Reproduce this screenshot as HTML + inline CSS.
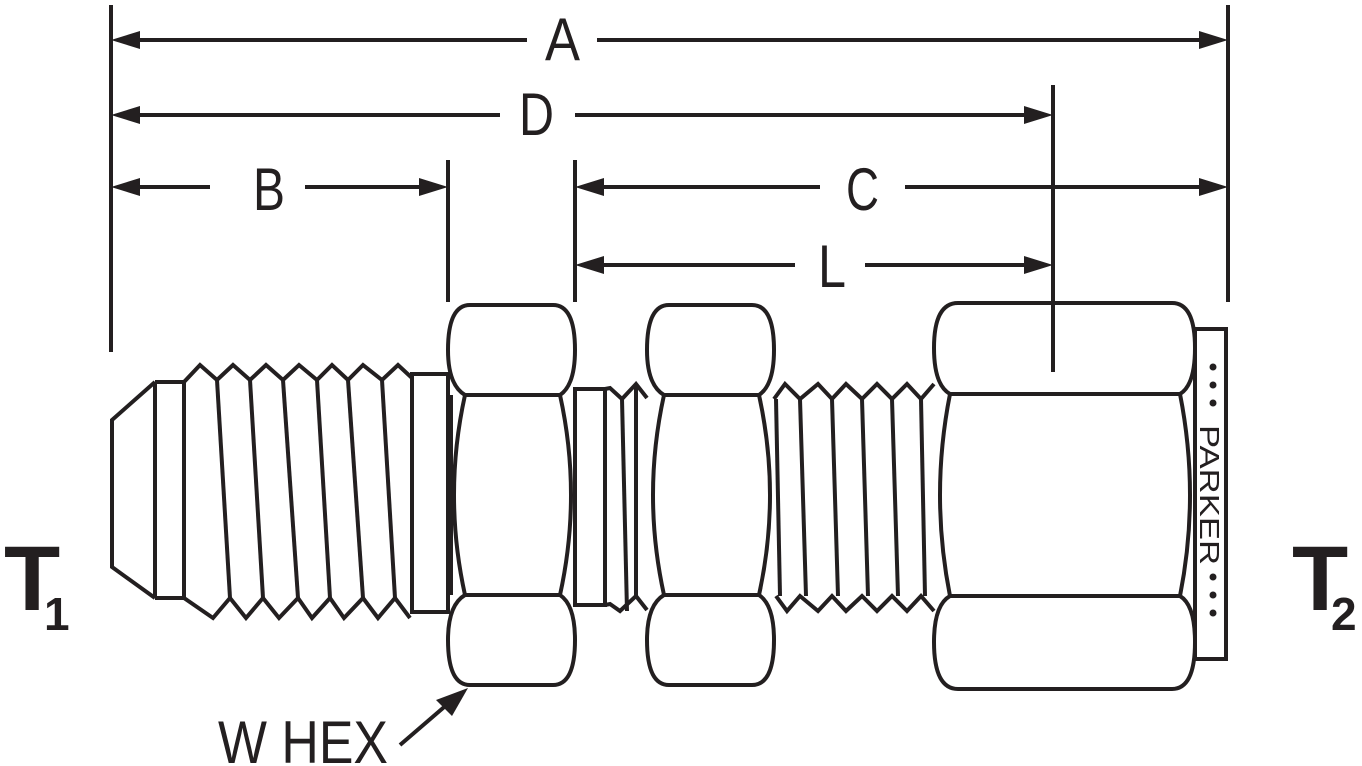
<!DOCTYPE html>
<html><head><meta charset="utf-8"><style>
html,body{margin:0;padding:0;background:#fff;}
svg{display:block;}
.t{font-family:"Liberation Sans Narrow","Liberation Sans",sans-serif;fill:#231f20;}
</style></head><body>
<svg width="1362" height="766" viewBox="0 0 1362 766" xmlns="http://www.w3.org/2000/svg">
<g stroke="#231f20" stroke-width="4" fill="none" stroke-linejoin="miter">
<line x1="111" y1="5" x2="111" y2="352"/>
<line x1="1228" y1="5" x2="1228" y2="302"/>
<line x1="448" y1="160" x2="448" y2="302"/>
<line x1="575" y1="160" x2="575" y2="302"/>
<line x1="1053" y1="85" x2="1053" y2="372"/>
<line x1="125" y1="40" x2="527" y2="40"/><line x1="597" y1="40" x2="1214" y2="40"/>
<line x1="125" y1="115" x2="500" y2="115"/><line x1="575" y1="115" x2="1039" y2="115"/>
<line x1="125" y1="187" x2="210" y2="187"/><line x1="305" y1="187" x2="434" y2="187"/>
<line x1="589" y1="187" x2="820" y2="187"/><line x1="905" y1="187" x2="1214" y2="187"/>
<line x1="589" y1="265" x2="795" y2="265"/><line x1="865" y1="265" x2="1039" y2="265"/>
</g>
<g fill="#231f20">
<polygon points="111,40 140,31 140,49"/><polygon points="1228,40 1199,31 1199,49"/>
<polygon points="111,115 140,106 140,124"/><polygon points="1053,115 1024,106 1024,124"/>
<polygon points="111,187 140,178 140,196"/><polygon points="448,187 419,178 419,196"/>
<polygon points="575,187 604,178 604,196"/><polygon points="1228,187 1199,178 1199,196"/>
<polygon points="575,265 604,256 604,274"/><polygon points="1053,265 1024,256 1024,274"/>
<polygon points="468,688 436,700 452,716"/>
</g>
<line x1="400" y1="745" x2="450" y2="702" stroke="#231f20" stroke-width="4"/>
<g class="t" font-size="60">
<text x="545" y="60" textLength="35" lengthAdjust="spacingAndGlyphs">A</text>
<text x="519" y="135" textLength="35" lengthAdjust="spacingAndGlyphs">D</text>
<text x="253" y="210" textLength="32" lengthAdjust="spacingAndGlyphs">B</text>
<text x="846" y="210" textLength="33" lengthAdjust="spacingAndGlyphs">C</text>
<text x="818" y="287" textLength="28" lengthAdjust="spacingAndGlyphs">L</text>
<text x="218" y="763" textLength="170" lengthAdjust="spacingAndGlyphs">W HEX</text>
</g>
<text x="4" y="610" font-family="Liberation Sans,sans-serif" font-weight="bold" font-size="92" fill="#231f20">T</text>
<text x="44" y="630" font-family="Liberation Sans,sans-serif" font-weight="bold" font-size="46" fill="#231f20">1</text>
<text x="1292" y="610" font-family="Liberation Sans,sans-serif" font-weight="bold" font-size="92" fill="#231f20">T</text>
<text x="1331" y="630" font-family="Liberation Sans,sans-serif" font-weight="bold" font-size="46" fill="#231f20">2</text>

<g stroke="#231f20" stroke-width="4" fill="none" stroke-linejoin="miter">
<polyline points="155,382 112,420 112,567 155,598"/>
<line x1="155" y1="382" x2="155" y2="598"/>
<line x1="184" y1="382" x2="184" y2="598"/>
<polyline points="155,382 184,382 200,365 217,380 233,365 250,380 266,365 283,380 299,365 317,380 332,365 348,380 363,365 382,380 398,365 412,378"/>
<polyline points="155,598 184,598 213,618 230,598 246,618 263,598 279,618 298,598 312,618 330,598 344,618 363,598 378,618 395,598 410,618"/>
<line x1="217" y1="380" x2="230" y2="598"/><line x1="250" y1="380" x2="263" y2="598"/>
<line x1="283" y1="380" x2="298" y2="598"/><line x1="317" y1="380" x2="330" y2="598"/>
<line x1="348" y1="380" x2="363" y2="598"/><line x1="382" y1="380" x2="395" y2="598"/>
<rect x="412" y="374" width="36" height="238"/>
<path d="M465,395 Q448,385 448,350 Q448,305 470,305 L553,305 Q575,305 575,350 Q575,385 560,395 Z"/>
<path d="M465,395 L560,395 Q582,495 560,595 L465,595 Q443,495 465,395 Z"/>
<path d="M465,595 Q448,605 448,640 Q448,685 470,685 L553,685 Q575,685 575,640 Q575,605 560,595 Z"/>
<line x1="451" y1="395" x2="451" y2="595"/>
<rect x="575" y="389" width="30" height="216"/>
<polyline points="605,389 610,388 622,399 636,384 647,398"/>
<polyline points="605,605 610,604 620,611 636,596 647,610"/>
<line x1="622" y1="399" x2="627" y2="611"/><line x1="636" y1="384" x2="636" y2="596"/>
<path d="M664,395 Q647,385 647,350 Q647,305 669,305 L752,305 Q774,305 774,350 Q774,385 759,395 Z"/>
<path d="M664,395 L759,395 Q781,495 759,595 L664,595 Q642,495 664,395 Z"/>
<path d="M664,595 Q647,605 647,640 Q647,685 669,685 L752,685 Q774,685 774,640 Q774,605 759,595 Z"/>
<polyline points="774,399 785,384 800,399 818,384 832,399 846,384 862,399 877,384 892,399 907,384 921,399 934,384"/>
<polyline points="776,596 787,611 800,596 818,611 832,596 846,611 862,596 877,611 892,596 907,611 921,596 934,611"/>
<line x1="776" y1="399" x2="780" y2="596"/>
<line x1="800" y1="399" x2="806" y2="596"/><line x1="832" y1="399" x2="838" y2="596"/>
<line x1="862" y1="399" x2="868" y2="596"/><line x1="892" y1="399" x2="898" y2="596"/>
<line x1="921" y1="399" x2="925" y2="596"/>
<path d="M950,394 Q934,385 934,348 Q934,303 958,303 L1172,303 Q1195,303 1195,348 Q1195,385 1180,394 Z"/>
<path d="M950,394 L1180,394 Q1200,495 1180,596 L950,596 Q930,495 950,394 Z"/>
<path d="M950,596 Q934,605 934,642 Q934,689 958,689 L1172,689 Q1195,689 1195,642 Q1195,605 1180,596 Z"/>
<rect x="1195" y="329" width="31" height="330"/>
</g>
<g fill="#231f20">
<circle cx="1213" cy="367" r="3.5"/><circle cx="1213" cy="385" r="3.5"/><circle cx="1213" cy="403" r="3.5"/>
<circle cx="1213" cy="577" r="3.5"/><circle cx="1213" cy="595" r="3.5"/><circle cx="1213" cy="613" r="3.5"/>
</g>
<text transform="translate(1200,425) rotate(90)" font-family="Liberation Sans,sans-serif" font-size="28" fill="#231f20" textLength="140" lengthAdjust="spacingAndGlyphs">PARKER</text>
</svg>
</body></html>
